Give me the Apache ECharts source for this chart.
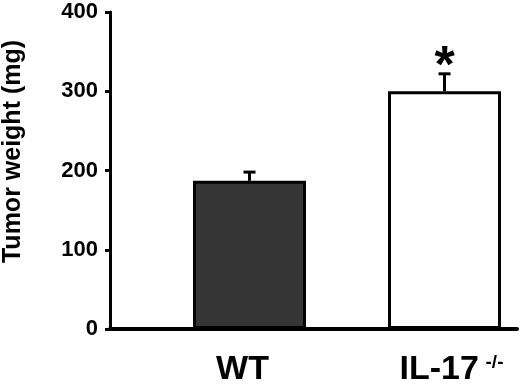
<!DOCTYPE html>
<html>
<head>
<meta charset="utf-8">
<script src="https://cdn.jsdelivr.net/npm/echarts@6/dist/echarts.min.js"></script>
<style>
  * { margin: 0; padding: 0; }
  #chart { width: 520px; height: 386px; background: #fff; }
</style>
</head>
<body>
<div id="chart"></div>
<script>
// data
const categories = ["WT", "IL-17"];
const weights = [187, 300];
const errors = [11, 22];
const marks = ["", "*"];
const barColors = ["#353535", "#ffffff"];
const yTicks = [0, 100, 200, 300, 400];

const font = "Liberation Sans, Arial, sans-serif";

const dom = document.getElementById("chart");
const myChart = echarts.init(dom, null, { renderer: "canvas" });

const option = {
  animation: false,
  grid: [
    { left: 110, right: 3, top: 12, bottom: 57, outerBoundsMode: "none" },
    { left: 152, width: 390, top: 12, bottom: 57, outerBoundsMode: "none" },
  ],
  xAxis: [
    {
      gridIndex: 0,
      type: "value",
      min: 0,
      max: 1,
      axisLine: { lineStyle: { color: "#000", width: 4 } },
      axisTick: { show: false },
      axisLabel: { show: false },
      splitLine: { show: false },
    },
    {
      gridIndex: 1,
      type: "category",
      data: categories,
      axisLine: { show: false },
      axisTick: { show: false },
      axisLabel: {
        margin: 24,
        formatter: (v) => (v === "IL-17" ? "{a|IL-17}  {b|-/-}" : "{w|" + v + "}"),
        rich: {
          w: { fontFamily: font, fontWeight: "bold", fontSize: 34, color: "#000", padding: [0, 14, 0, 0] },
          a: { fontFamily: font, fontWeight: "bold", fontSize: 34, color: "#000", padding: [0, 0, 0, 14] },
          b: { fontFamily: font, fontWeight: "bold", fontSize: 19, color: "#000", padding: [0, 0, 14, 0] },
        },
      },
    },
  ],
  yAxis: [
    {
      gridIndex: 0,
      type: "value",
      min: yTicks[0],
      max: yTicks[yTicks.length - 1],
      interval: 100,
      name: "Tumor weight (mg)",
      nameLocation: "middle",
      nameGap: 84,
      nameTextStyle: { fontFamily: font, fontWeight: "bold", fontSize: 25, color: "#000", padding: [0, 0, 0, 38] },
      axisLine: { show: true, lineStyle: { color: "#000", width: 3 } },
      axisTick: { show: true, length: 5, lineStyle: { color: "#000", width: 3 } },
      axisLabel: { fontFamily: font, fontWeight: "bold", fontSize: 22, color: "#000", margin: 12 },
      splitLine: { show: false },
    },
    {
      gridIndex: 1,
      type: "value",
      min: yTicks[0],
      max: yTicks[yTicks.length - 1],
      show: false,
      splitLine: { show: false },
    },
  ],
  series: [
    {
      type: "bar",
      xAxisIndex: 1,
      yAxisIndex: 1,
      barWidth: 113,
      data: weights.map((v, i) => ({
        value: v,
        itemStyle: { color: barColors[i], borderColor: "#000", borderWidth: 3 },
      })),
      z: 2,
    },
    {
      type: "custom",
      xAxisIndex: 1,
      yAxisIndex: 1,
      data: weights.map((v, i) => [i, v, errors[i]]),
      z: 3,
      renderItem: (params, api) => {
        const i = api.value(0);
        const base = api.coord([i, api.value(1)]);
        const top = api.coord([i, api.value(1) + api.value(2)]);
        const children = [
          { type: "line", shape: { x1: base[0], y1: base[1], x2: top[0], y2: top[1] },
            style: { stroke: "#000", lineWidth: 3 } },
          { type: "line", shape: { x1: top[0] - 6, y1: top[1], x2: top[0] + 6, y2: top[1] },
            style: { stroke: "#000", lineWidth: 3 } },
        ];
        if (marks[i]) {
          children.push({
            type: "text",
            style: {
              x: top[0], y: top[1] + 20,
              text: marks[i],
              align: "center", verticalAlign: "bottom",
              font: "bold 52px " + font,
              fill: "#000",
            },
          });
        }
        return { type: "group", children };
      },
    },
  ],
};

myChart.setOption(option);
window.addEventListener("resize", myChart.resize);
</script>
</body>
</html>
